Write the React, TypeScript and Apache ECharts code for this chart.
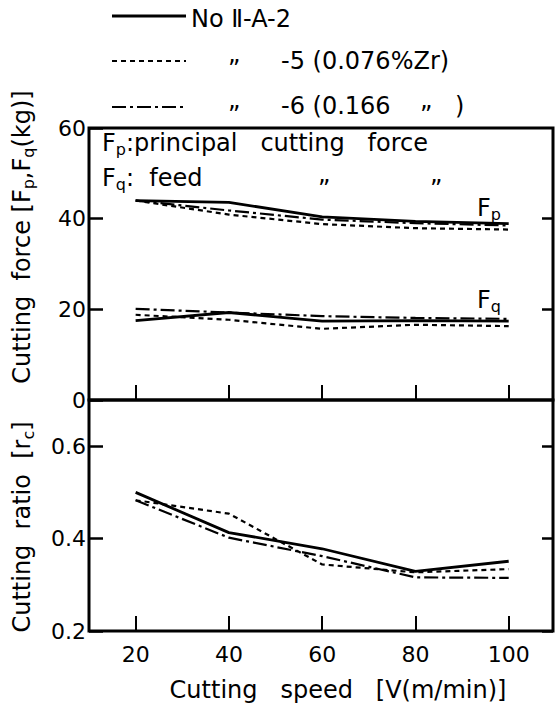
import React, { useEffect, useRef } from "react";
import * as echarts from "echarts";

const speeds = [20, 40, 60, 80, 100];
const xTicks = [20, 40, 60, 80, 100];
const forceTicks = [0, 20, 40, 60];
const ratioTicks = [0.2, 0.4, 0.6];

const fpNo2 = [44.0, 43.6, 40.4, 39.4, 38.9];
const fpNo5 = [44.0, 40.9, 38.8, 37.9, 37.6];
const fpNo6 = [44.0, 41.8, 39.8, 39.0, 38.5];

const fqNo2 = [17.5, 19.3, 17.4, 17.5, 17.4];
const fqNo5 = [18.8, 17.7, 15.7, 16.6, 16.3];
const fqNo6 = [20.1, 19.3, 18.5, 18.1, 17.9];

const rcNo2 = [0.5, 0.413, 0.378, 0.329, 0.351];
const rcNo5 = [0.483, 0.454, 0.344, 0.327, 0.334];
const rcNo6 = [0.483, 0.402, 0.362, 0.316, 0.315];

const legendNames = ["No Ⅱ-A-2", "-5 (0.076%Zr)", "-6 (0.166"];

const FONT = "DejaVu Sans";
const SOLID = { width: 2.8, type: "solid" as any };
const DASHED = { width: 2.2, type: [5, 4] as any };
const DASHDOT = { width: 2.2, type: [14, 4, 3, 4] as any };

function pts(vals: number[]) {
  return speeds.map((x, i) => [x, vals[i]]);
}

function lineSeries(name: string, vals: number[], style: any, idx: number) {
  return {
    name,
    type: "line",
    xAxisIndex: idx,
    yAxisIndex: idx * 2,
    data: pts(vals),
    showSymbol: false,
    symbol: "none",
    smooth: false,
    lineStyle: { color: "#000", ...style },
    z: 3,
  };
}

export default function App() {
  const ref = useRef<HTMLDivElement>(null);
  useEffect(() => {
    if (!ref.current) return;
    const chart = echarts.init(ref.current, undefined, { renderer: "svg" });
    const xBase = (gi: number, showLabel: boolean) => ({
      type: "value",
      gridIndex: gi,
      min: 10,
      max: 109.5,
      axisLine: { show: false },
      splitLine: { show: false },
      axisTick: {
        show: true,
        inside: true,
        length: 15,
        customValues: xTicks,
        lineStyle: { color: "#000", width: 2 },
      },
      axisLabel: {
        show: showLabel,
        customValues: xTicks,
        fontSize: 22,
        fontFamily: FONT,
        color: "#000",
        margin: 12,
      },
    });
    const yBase = (gi: number, pos: string, min: number, max: number, ticks: number[], showLabel: boolean, len: number, digits: number) => ({
      type: "value",
      gridIndex: gi,
      position: pos,
      min,
      max,
      axisLine: { show: false },
      splitLine: { show: false },
      axisTick: {
        show: true,
        inside: true,
        length: len,
        customValues: ticks,
        lineStyle: { color: "#000", width: 2.5 },
      },
      axisLabel: {
        show: showLabel,
        customValues: ticks,
        fontSize: 22,
        fontFamily: FONT,
        color: "#000",
        margin: 3,
        formatter: (v: number) => v.toFixed(digits),
      },
    });

    const legendY = [16, 61, 107];
    const legendStyles = [SOLID, DASHED, DASHDOT];
    const graphic: any[] = [];
    legendStyles.forEach((st, i) => {
      graphic.push({
        type: "line",
        shape: { x1: 112, y1: legendY[i], x2: 186, y2: legendY[i] },
        style: { stroke: "#000", lineWidth: st.width, lineDash: Array.isArray(st.type) ? st.type : null },
      });
    });
    const txt = (text: string, x: number, y: number, size = 24, extra: any = {}) => ({
      type: "text",
      x,
      y,
      style: {
        text,
        fontSize: size,
        fontFamily: FONT,
        fill: "#000",
        align: "left",
        verticalAlign: "middle",
        ...extra,
      },
    });
    graphic.push(txt(legendNames[0], 191, 19));
    graphic.push(txt("„", 228, 54, 24));
    graphic.push(txt(legendNames[1], 281, 61));
    graphic.push(txt("„", 228, 100, 24));
    graphic.push(txt(legendNames[2], 281, 106));
    graphic.push(txt("„", 420, 100, 24));
    graphic.push(txt(")", 455, 106));

    const rich = {
      n: { fontSize: 24, fontFamily: FONT, fill: "#000", lineHeight: 30 },
      s: { fontSize: 16, fontFamily: FONT, fill: "#000", lineHeight: 30, padding: [12, 0, 0, 0] },
    };
    graphic.push({
      type: "text",
      x: 102,
      y: 143,
      style: { text: "{n|F}{s|p}{n|:principal   cutting   force}", rich, align: "left", verticalAlign: "middle" },
    });
    graphic.push({
      type: "text",
      x: 102,
      y: 178,
      style: { text: "{n|F}{s|q}{n|:  feed}", rich, align: "left", verticalAlign: "middle" },
    });
    graphic.push(txt("„", 318, 174, 24));
    graphic.push(txt("„", 430, 174, 24));
    graphic.push({
      type: "text",
      x: 477,
      y: 208,
      style: { text: "{n|F}{s|p}", rich, align: "left", verticalAlign: "middle" },
    });
    graphic.push({
      type: "text",
      x: 477,
      y: 300,
      style: { text: "{n|F}{s|q}", rich, align: "left", verticalAlign: "middle" },
    });
    graphic.push({
      type: "text",
      x: 22,
      y: 237,
      rotation: Math.PI / 2,
      style: { text: "{n|Cutting  force [F}{s|p}{n|,F}{s|q}{n|(kg)]}", rich, align: "center", verticalAlign: "middle" },
    });
    graphic.push({
      type: "text",
      x: 22,
      y: 527,
      rotation: Math.PI / 2,
      style: { text: "{n|Cutting  ratio  [r}{s|c}{n|]}", rich, align: "center", verticalAlign: "middle" },
    });
    graphic.push({
      type: "text",
      x: 338,
      y: 690,
      style: {
        text: "Cutting   speed   [V(m/min)]",
        fontSize: 24,
        fontFamily: FONT,
        fill: "#000",
        align: "center",
        verticalAlign: "middle",
      },
    });

    chart.setOption({
      animation: false,
      backgroundColor: "#fff",
      textStyle: { fontFamily: FONT },
      grid: [
        { left: 89, top: 128, width: 464, height: 272, show: true, borderColor: "#000", borderWidth: 3, backgroundColor: "transparent" },
        { left: 89, top: 400, width: 464, height: 231, show: true, borderColor: "#000", borderWidth: 3, backgroundColor: "transparent" },
      ],
      xAxis: [xBase(0, false), xBase(1, true)],
      yAxis: [
        yBase(0, "left", 0, 60, forceTicks, true, 14, 0),
        yBase(0, "right", 0, 60, [20, 40], false, 11, 0),
        yBase(1, "left", 0.2, 0.7, ratioTicks, true, 14, 1),
        yBase(1, "right", 0.2, 0.7, ratioTicks, false, 11, 1),
      ],
      series: [
        lineSeries("Fp No.2", fpNo2, SOLID, 0),
        lineSeries("Fp No.5", fpNo5, DASHED, 0),
        lineSeries("Fp No.6", fpNo6, DASHDOT, 0),
        lineSeries("Fq No.2", fqNo2, SOLID, 0),
        lineSeries("Fq No.5", fqNo5, DASHED, 0),
        lineSeries("Fq No.6", fqNo6, DASHDOT, 0),
        lineSeries("rc No.2", rcNo2, SOLID, 1),
        lineSeries("rc No.5", rcNo5, DASHED, 1),
        lineSeries("rc No.6", rcNo6, DASHDOT, 1),
      ],
      graphic,
    });
    return () => chart.dispose();
  }, []);
  return <div ref={ref} style={{ width: 555, height: 708, position: "absolute", left: 0, top: 0 }} />;
}
